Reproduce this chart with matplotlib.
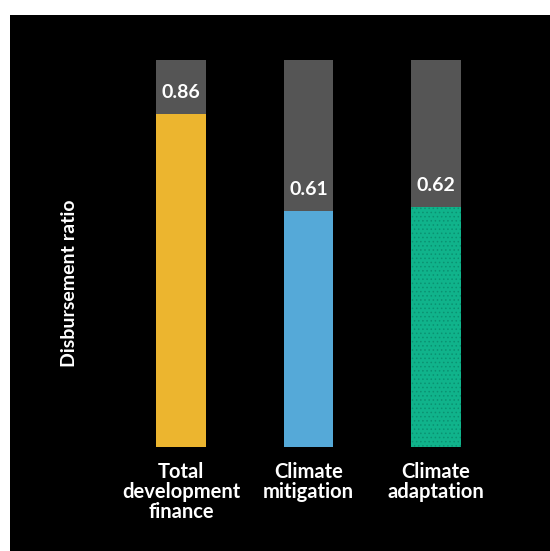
import matplotlib
matplotlib.use('Agg')
import matplotlib.pyplot as plt
from matplotlib.patches import Rectangle

# data
categories = ['Total\ndevelopment\nfinance', 'Climate\nmitigation', 'Climate\nadaptation']
ratios = [0.86, 0.61, 0.62]
value_labels = ['0.86', '0.61', '0.62']
full = [1.0, 1.0, 1.0]

bar_colors = ['#ECB52F', '#55A9D8', '#10B38B']
grey = '#555555'

plt.rcParams['font.family'] = ['Lato', 'DejaVu Sans']
plt.rcParams['font.weight'] = 'bold'
plt.rcParams['hatch.linewidth'] = 0.6

fig = plt.figure(figsize=(5.5, 5.51), dpi=100)
fig.patch.set_facecolor('white')
# black panel, white strip on top and left
fig.patches.append(Rectangle((10 / 550, 0), 1, (551 - 15) / 551,
                             transform=fig.transFigure, facecolor='black',
                             edgecolor='none', zorder=-10))

ax = fig.add_axes([117.25 / 550, (551 - 446.7) / 551, 382.5 / 550, 386.7 / 551])
ax.set_facecolor('none')
ax.set_zorder(5)

x = list(range(len(categories)))
ax.bar(x, full, width=0.392, color=grey, linewidth=0)
bars = ax.bar(x, ratios, width=0.392, color=bar_colors, linewidth=0)
# stippled texture on the adaptation bar
bars[2].set_hatch('....')
bars[2].set_edgecolor('#0A9272')

for xi, r, lab in zip(x, ratios, value_labels):
    ax.text(xi, r + 0.055, lab, ha='center', va='center', color='white',
            fontsize=14, fontweight='bold')

ax.set_xlim(-0.5, 2.5)
ax.set_ylim(0, 1)
ax.set_xticks(x)
ax.set_xticklabels(categories, color='white', fontsize=14.5, fontweight='bold',
                   linespacing=1.0)
ax.tick_params(axis='x', length=0, pad=11)
ax.set_yticks([])
for s in ax.spines.values():
    s.set_visible(False)

fig.text(70 / 550, 1 - 283 / 551, 'Disbursement ratio', rotation=90,
         ha='center', va='center', color='white', fontsize=14, fontweight='bold')

fig.savefig('out.png', dpi=100, facecolor=fig.get_facecolor())
